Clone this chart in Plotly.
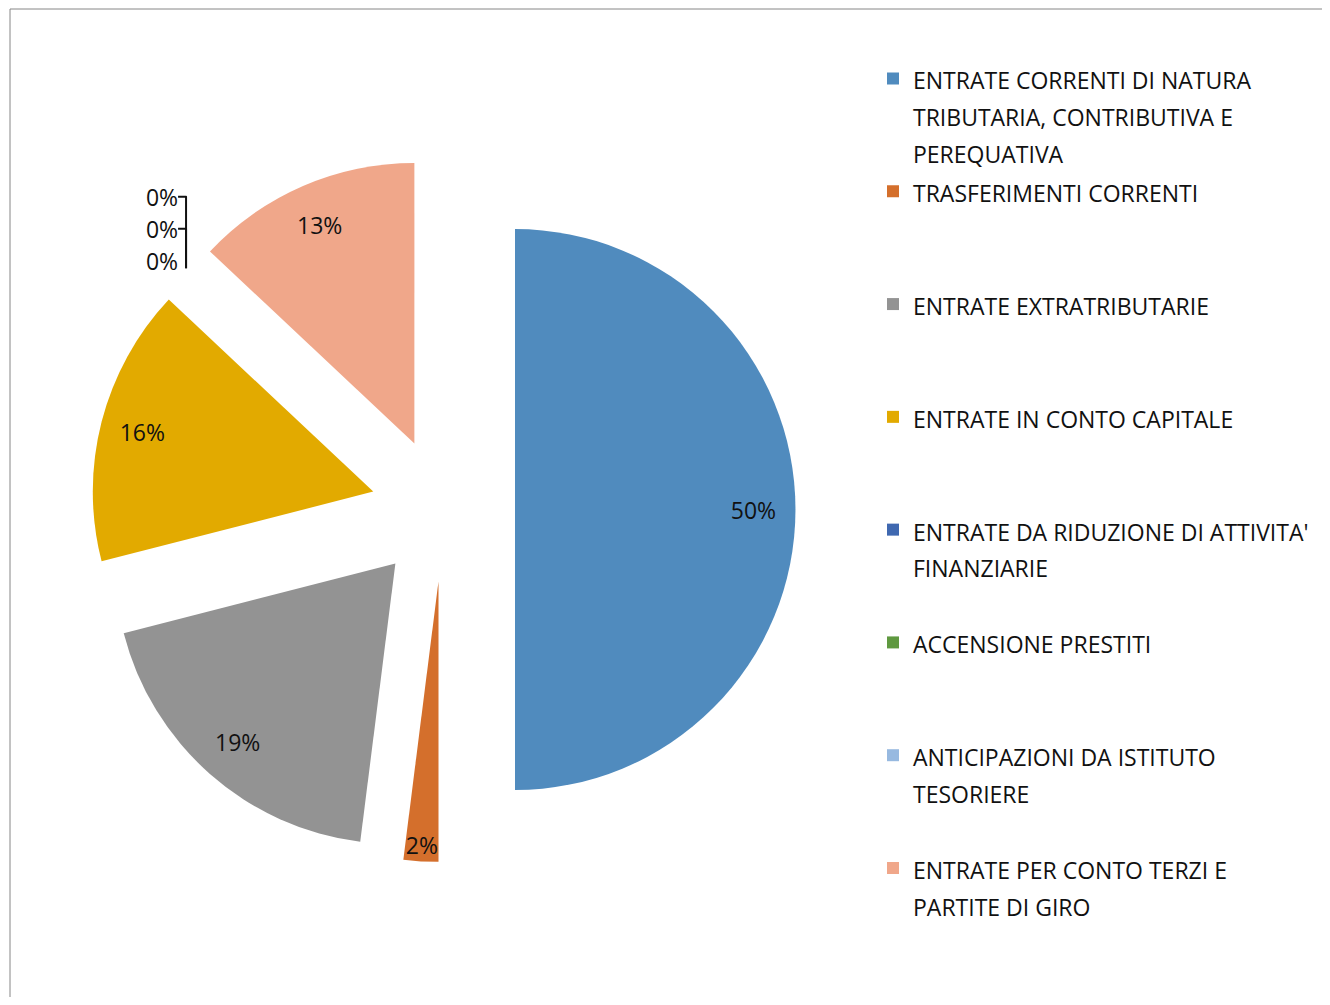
import plotly.graph_objects as go

categories = [
    "ENTRATE CORRENTI DI NATURA<br>TRIBUTARIA, CONTRIBUTIVA E<br>PEREQUATIVA",
    "TRASFERIMENTI CORRENTI",
    "ENTRATE EXTRATRIBUTARIE",
    "ENTRATE IN CONTO CAPITALE",
    "ENTRATE DA RIDUZIONE DI ATTIVITA'<br>FINANZIARIE",
    "ACCENSIONE PRESTITI",
    "ANTICIPAZIONI DA ISTITUTO<br>TESORIERE",
    "ENTRATE PER CONTO TERZI E<br>PARTITE DI GIRO",
]
values = [50, 2, 19, 16, 0, 0, 0, 13]
colors = ["#508BBE", "#D46F2C", "#939393", "#E2AA00", "#3F68B0", "#5F9940", "#97B9E0", "#F0A78A"]
text_positions = ["inside", "inside", "inside", "inside", "outside", "outside", "outside", "inside"]

FONT = "Open Sans"
TEXT_SIZE = 23
TEXT_COLOR = "#111111"
LEGEND_LINE_FONT = 28.15  # controls legend line pitch
LEGEND_LINES = 3
PULL = 0.2567
DOMAIN = dict(x=[0.0628, 0.5993], y=[0.1365, 0.8493])


def legend_label(s):
    parts = s.split("<br>")
    while len(parts) < LEGEND_LINES:
        parts.append("\u00a0")
    return "<br>".join(f"<span style='font-size:{TEXT_SIZE}px'>{p}</span>" for p in parts)


labels = [legend_label(c) for c in categories]

W, H = 1314, 989

fig = go.Figure()

# solid exploded pie (slices + legend)
fig.add_trace(
    go.Pie(
        labels=labels,
        values=values,
        sort=False,
        direction="clockwise",
        rotation=0,
        pull=[PULL] * len(values),
        marker=dict(colors=colors, line=dict(width=0)),
        textinfo="none",
        hoverinfo="percent",
        domain=DOMAIN,
    )
)

# same pie as a ring, transparent, only carrying the percentage labels near the rim
fig.add_trace(
    go.Pie(
        labels=labels,
        values=values,
        sort=False,
        direction="clockwise",
        rotation=0,
        pull=[PULL] * len(values),
        hole=0.7,
        marker=dict(colors=["rgba(0,0,0,0)"] * len(values), line=dict(width=0)),
        texttemplate="%{percent:.0%}",
        textposition=text_positions,
        insidetextorientation="horizontal",
        textfont=dict(family=FONT, size=TEXT_SIZE, color=TEXT_COLOR),
        outsidetextfont=dict(family=FONT, size=TEXT_SIZE, color=TEXT_COLOR),
        hoverinfo="skip",
        showlegend=False,
        domain=DOMAIN,
    )
)

fig.update_layout(
    width=W,
    height=H,
    margin=dict(l=0, r=0, t=0, b=0, autoexpand=False),
    paper_bgcolor="white",
    plot_bgcolor="white",
    showlegend=True,
    uniformtext=dict(minsize=TEXT_SIZE, mode="show"),
    legend=dict(
        x=865 / W,
        xanchor="left",
        y=1 - 45.7 / H,
        yanchor="top",
        valign="top",
        font=dict(family=FONT, size=LEGEND_LINE_FONT, color=TEXT_COLOR),
        bgcolor="rgba(0,0,0,0)",
        traceorder="normal",
    ),
    shapes=[
        dict(type="line", xref="paper", yref="paper",
             x0=2 / W, x1=1, y0=1 - 1 / H, y1=1 - 1 / H,
             line=dict(color="#868686", width=1), layer="below"),
        dict(type="line", xref="paper", yref="paper",
             x0=2 / W, x1=2 / W, y0=0, y1=1 - 1 / H,
             line=dict(color="#868686", width=1), layer="below"),
    ],
)

fig.write_html("out.html")
